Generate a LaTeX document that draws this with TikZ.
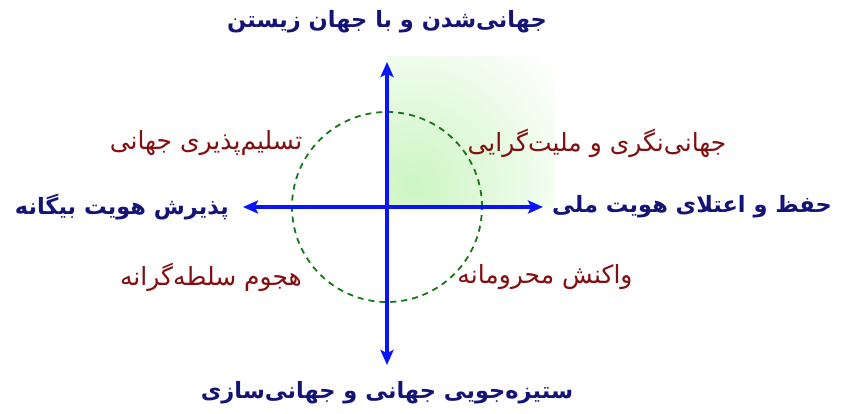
\documentclass[tikz,border=0pt]{standalone}
\usepackage{fontspec}
\usetikzlibrary{
	positioning,
	arrows.meta
}
\TeXXeTstate=1
\newfontfamily\persianfont[Script=Arabic]{DejaVu Sans}
\definecolor{AxisBlue}{RGB}{10,20,250}
\definecolor{TitleNavy}{RGB}{20,20,120}
\definecolor{LabelRed}{RGB}{130,15,15}
\definecolor{RingGreen}{RGB}{20,120,20}
\definecolor{GlowGreen}{RGB}{205,245,195}

\begin{document}
\begin{tikzpicture}[x=1pt,y=1pt]
				
				\tikzset{
				axisline/.style={
				draw=AxisBlue,
				line width=3.6pt,
				{Stealth[length=15pt,width=13pt,inset=3pt]}-{Stealth[length=15pt,width=13pt,inset=3pt]}
				},
				axislabel/.style={
				text=TitleNavy,
				font=\persianfont\bfseries\fontsize{22.5}{26}\selectfont,
				inner sep=0pt
				},
				quadlabel/.style={
				text=LabelRed,
				font=\persianfont\fontsize{25}{29}\selectfont,
				inner sep=0pt
				}
				}
				
				\useasboundingbox (-387,-207) rectangle (455,207);
				
				% soft glow in the upper right quarter
				\begin{scope}
				\clip (0,0) rectangle (168,150);
				\shade[inner color=GlowGreen, outer color=white] (26,22) circle (185);
				\end{scope}
				
				\coordinate (O) at (0,0);
				\coordinate (N) at (0,145);
				\coordinate (S) at (0,-158);
				\coordinate (W) at (-144,0);
				\coordinate (E) at (156,0);
				
				\draw[RingGreen, line width=1.8pt, dash pattern=on 6pt off 5pt] (O) circle (95);
				
				\draw[axisline] (W) -- (E);
				\draw[axisline] (S) -- (N);
				
				\node[axislabel] (top) at (0,185) {\beginR جهانی‌شدن و با جهان زیستن\endR};
				\node[axislabel] (bottom) at (0,-186) {\beginR ستیزه‌جویی جهانی و جهانی‌سازی\endR};
				\node[axislabel, left=14pt of W] (left) {\beginR پذیرش هویت بیگانه\endR};
				\node[axislabel, right=9pt of E] (right) {\beginR حفظ و اعتلای هویت ملی\endR};
				
				\node[quadlabel] (tl) at (-181,64) {\beginR تسلیم‌پذیری جهانی\endR};
				\node[quadlabel] (tr) at (210,64) {\beginR جهانی‌نگری و ملیت‌گرایی\endR};
				\node[quadlabel] (bl) at (-176,-70) {\beginR هجوم سلطه‌گرانه\endR};
				\node[quadlabel] (br) at (158,-70) {\beginR واکنش محرومانه\endR};
				
			\end{tikzpicture}
\end{document}
